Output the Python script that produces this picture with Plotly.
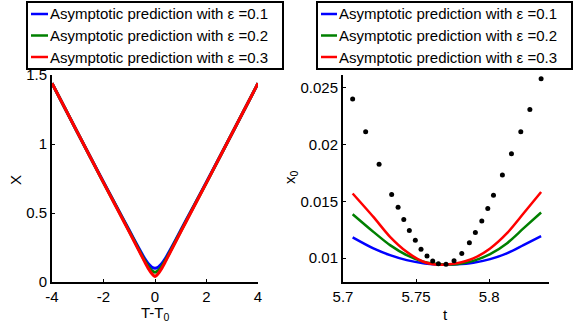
import plotly.graph_objects as go

W, H = 574, 326

# ---------------- data ----------------
legend_names = ["Asymptotic prediction with \u03b5 =0.1",
                "Asymptotic prediction with \u03b5 =0.2",
                "Asymptotic prediction with \u03b5 =0.3"]
colors = ["#0000ff", "#008000", "#ff0000"]

# left panel: X vs T-T0
T_left = [-4, -3, -2, -1.5, -1, -0.6, -0.4, -0.25, -0.12, 0, 0.12, 0.25, 0.4, 0.6, 1, 1.5, 2, 3, 4]
X_eps1 = [1.44, 1.08, 0.725, 0.55, 0.375, 0.235, 0.17, 0.13, 0.107, 0.10, 0.107, 0.13, 0.17, 0.235, 0.375, 0.55, 0.725, 1.08, 1.44]
X_eps2 = [1.44, 1.08, 0.72, 0.545, 0.368, 0.225, 0.155, 0.11, 0.083, 0.07, 0.083, 0.11, 0.155, 0.225, 0.368, 0.545, 0.72, 1.08, 1.44]
X_eps3 = [1.44, 1.08, 0.72, 0.542, 0.363, 0.218, 0.146, 0.095, 0.06, 0.04, 0.06, 0.095, 0.146, 0.218, 0.363, 0.542, 0.72, 1.08, 1.44]

# right panel: x0 vs t
t_curve = [5.7066, 5.7208, 5.7322, 5.7436, 5.7550, 5.7618, 5.7705, 5.7779, 5.7892, 5.8007, 5.8121, 5.8235, 5.8356]
x0_eps1 = [0.01182, 0.01085, 0.01026, 0.00982, 0.00954, 0.00947, 0.00943, 0.00945, 0.00959, 0.00991, 0.01041, 0.01114, 0.01193]
x0_eps2 = [0.01386, 0.01231, 0.01114, 0.01026, 0.00968, 0.00952, 0.00943, 0.00947, 0.00976, 0.01035, 0.01129, 0.01261, 0.01401]
x0_eps3 = [0.01568, 0.01362, 0.01187, 0.01055, 0.00968, 0.00947, 0.00943, 0.00954, 0.00997, 0.01085, 0.01217, 0.01392, 0.01582]

t_dots = [5.7066, 5.7155, 5.7247, 5.7333, 5.7377, 5.7416, 5.7454, 5.7495, 5.7534, 5.7575,
          5.7614, 5.7653, 5.7705, 5.7760, 5.7813, 5.7865, 5.7906, 5.7950, 5.7991, 5.8030,
          5.8091, 5.8153, 5.8217, 5.8279, 5.8356]
x0_dots = [0.02400, 0.02110, 0.01825, 0.01559, 0.01447, 0.01339, 0.01243, 0.01158, 0.01079, 0.01018,
           0.00974, 0.00950, 0.00945, 0.00976, 0.01041, 0.01134, 0.01225, 0.01327, 0.01436, 0.01553,
           0.01731, 0.01918, 0.02111, 0.02307, 0.02576]

left_xticks = [-4, -2, 0, 2, 4]
left_xticklabels = ["-4", "-2", "0", "2", "4"]
left_yticks = [0, 0.5, 1, 1.5]
left_yticklabels = ["0", "0.5", "1", "1.5"]
right_xticks = [5.7, 5.75, 5.8]
right_xticklabels = ["5.7", "5.75", "5.8"]
right_yticks = [0.01, 0.015, 0.02, 0.025]
right_yticklabels = ["0.01", "0.015", "0.02", "0.025"]

axis_titles = {"x": "T-T<sub>0</sub>", "y": "X", "x2": "t", "y2": "x<sub>0</sub>"}

FONT = "Liberation Sans, Arial, Helvetica, sans-serif"
FS = 15

fig = go.Figure()

for ys, c, n in zip([X_eps1, X_eps2, X_eps3], colors, legend_names):
    fig.add_trace(go.Scatter(x=T_left, y=ys, mode="lines", name=n,
                             line=dict(color=c, width=3, shape="spline", smoothing=0.6),
                             xaxis="x", yaxis="y", showlegend=False))

for ys, c, n in zip([x0_eps1, x0_eps2, x0_eps3], colors, legend_names):
    fig.add_trace(go.Scatter(x=t_curve, y=ys, mode="lines", name=n,
                             line=dict(color=c, width=2.5, shape="spline", smoothing=0.8),
                             xaxis="x2", yaxis="y2", showlegend=False))

fig.add_trace(go.Scatter(x=t_dots, y=x0_dots, mode="markers",
                         marker=dict(color="black", size=5),
                         xaxis="x2", yaxis="y2", showlegend=False))

def px_x(p):
    return p / W

def px_y(p):
    return 1 - p / H

axis_common = dict(showgrid=False, zeroline=False, showline=True, linecolor="black",
                   linewidth=2, ticks="inside", ticklen=3, tickwidth=1, tickcolor="black",
                   automargin=False,
                   tickfont=dict(family=FONT, size=FS, color="black"))

fig.update_layout(
    width=W, height=H, margin=dict(l=0, r=0, t=0, b=0, autoexpand=False),
    paper_bgcolor="white", plot_bgcolor="white",
    font=dict(family=FONT, size=FS, color="black"),
    xaxis=dict(domain=[px_x(52), px_x(258)], range=[-4, 4], tickvals=left_xticks,
               ticktext=left_xticklabels, anchor="y", **axis_common),
    yaxis=dict(domain=[px_y(282), px_y(75)], range=[0, 1.5], tickvals=left_yticks,
               ticktext=left_yticklabels, anchor="x", **axis_common),
    xaxis2=dict(domain=[px_x(343), px_x(549)], range=[5.7, 5.841], tickvals=right_xticks,
                ticktext=right_xticklabels, anchor="y2", **axis_common),
    yaxis2=dict(domain=[px_y(282), px_y(75)], range=[0.0079, 0.0261], tickvals=right_yticks,
                ticktext=right_yticklabels, anchor="x2", **axis_common),
)

shapes = []
annotations = []

# axis titles (placed like MATLAB)
for key, (cx, cy, ang) in {"x": (155, 313, 0), "y": (15, 180, -90),
                           "x2": (446, 314, 0), "y2": (290, 177, -90)}.items():
    annotations.append(dict(xref="paper", yref="paper", x=px_x(cx), y=px_y(cy),
                            text=axis_titles[key], showarrow=False, textangle=ang,
                            xanchor="center", yanchor="middle",
                            font=dict(family=FONT, size=FS, color="black")))

# custom legends (MATLAB-style)
for (bx0, bx1, lx0, lx1, tx) in [(27, 283, 31, 48, 48), (317, 572, 321, 337, 337)]:
    shapes.append(dict(type="rect", xref="paper", yref="paper",
                       x0=px_x(bx0), x1=px_x(bx1), y0=px_y(69), y1=px_y(2),
                       line=dict(color="black", width=2), fillcolor="white", layer="above"))
    for i, (c, n) in enumerate(zip(colors, legend_names)):
        yc = [14, 35.5, 57][i]
        shapes.append(dict(type="line", xref="paper", yref="paper",
                           x0=px_x(lx0), x1=px_x(lx1), y0=px_y(yc), y1=px_y(yc),
                           line=dict(color=c, width=2.5), layer="above"))
        annotations.append(dict(xref="paper", yref="paper", x=px_x(tx), y=px_y(yc),
                                text=n, showarrow=False, xanchor="left", yanchor="middle",
                                font=dict(family=FONT, size=FS, color="black")))

fig.update_layout(shapes=shapes, annotations=annotations)

fig.write_html("out.html")
